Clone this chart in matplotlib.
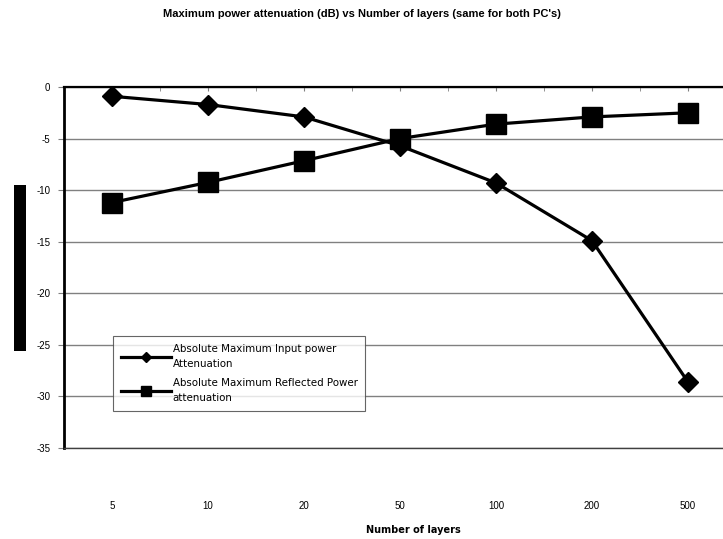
import matplotlib
matplotlib.use("Agg")
import matplotlib.pyplot as plt
from matplotlib.lines import Line2D
from matplotlib.patches import Rectangle
import numpy as np

plt.rcParams['font.family'] = ['Liberation Sans', 'DejaVu Sans']

categories = ["5", "10", "20", "50", "100", "200", "500"]
input_atten = [-0.9, -1.7, -2.9, -5.7, -9.3, -14.9, -28.6]
reflected_atten = [-11.2, -9.25, -7.15, -5.0, -3.6, -2.9, -2.5]
yticks = [0, -5, -10, -15, -20, -25, -30, -35]
title = "Maximum power attenuation (dB) vs Number of layers (same for both PC's)"
xlabel = "Number of layers"
legend_labels = ["Absolute Maximum Input power\nAttenuation",
                 "Absolute Maximum Reflected Power\nattenuation"]

W, H = 723, 539
fig = plt.figure(figsize=(W/100, H/100), dpi=100)
left, right, top, bottom = 64, 736, 87, 448
ax = fig.add_axes([left/W, 1-bottom/H, (right-left)/W, (bottom-top)/H])

x = np.arange(len(categories))
ax.plot(x, input_atten, color='black', lw=2.3, marker='D', ms=10, mec='black', mfc='black', zorder=3)
ax.plot(x, reflected_atten, color='black', lw=2.3, marker='s', ms=14, mec='black', mfc='black', zorder=3)

ax.set_xlim(-0.5, len(categories)-0.5)
ax.set_ylim(-35, 0)
ax.set_yticks(yticks)
ax.set_yticklabels([str(v) for v in yticks], fontsize=7)
ax.yaxis.grid(True, color='#808080', lw=1)
ax.set_axisbelow(True)

ax.set_xticks(x)
ax.set_xticklabels(categories, fontsize=7)
ax.set_xticks(np.arange(-0.5, len(categories), 1.0), minor=True)
ax.tick_params(axis='x', which='both', bottom=False, top=True, direction='in',
               length=3, color='#808080', labelbottom=True, pad=38)
ax.tick_params(axis='y', direction='out', length=4, color='#808080', pad=6)

ax.spines['right'].set_visible(False)
ax.spines['bottom'].set_color('#404040'); ax.spines['bottom'].set_linewidth(1)
ax.spines['top'].set_color('black'); ax.spines['top'].set_linewidth(1.6)
ax.spines['left'].set_color('black'); ax.spines['left'].set_linewidth(2)

fig.text(362/W, 1-14/H, title, ha='center', va='center', fontsize=8, fontweight='bold')
fig.text(413/W, 1-530/H, xlabel, ha='center', va='center', fontsize=7,
         fontweight='bold', family='DejaVu Sans')

fig.patches.append(Rectangle((14/W, 1-351/H), 12/W, 166/H, transform=fig.transFigure,
                             facecolor='black', edgecolor='none'))

handles = [Line2D([], [], color='black', lw=2.3, marker='D', ms=5),
           Line2D([], [], color='black', lw=2.3, marker='s', ms=7)]
leg = ax.legend(handles, legend_labels, loc='upper left',
                bbox_to_anchor=(113/W, 1-336/H), bbox_transform=fig.transFigure,
                prop={'family': 'DejaVu Sans', 'size': 7.4}, frameon=True, fancybox=False,
                edgecolor='#404040', handlelength=4.9, handletextpad=0.15,
                borderpad=0.75, labelspacing=0.8, borderaxespad=0)
leg.get_frame().set_linewidth(0.8)
for t in leg.get_texts():
    t.set_linespacing(1.7)

fig.savefig("out.png", dpi=100)
